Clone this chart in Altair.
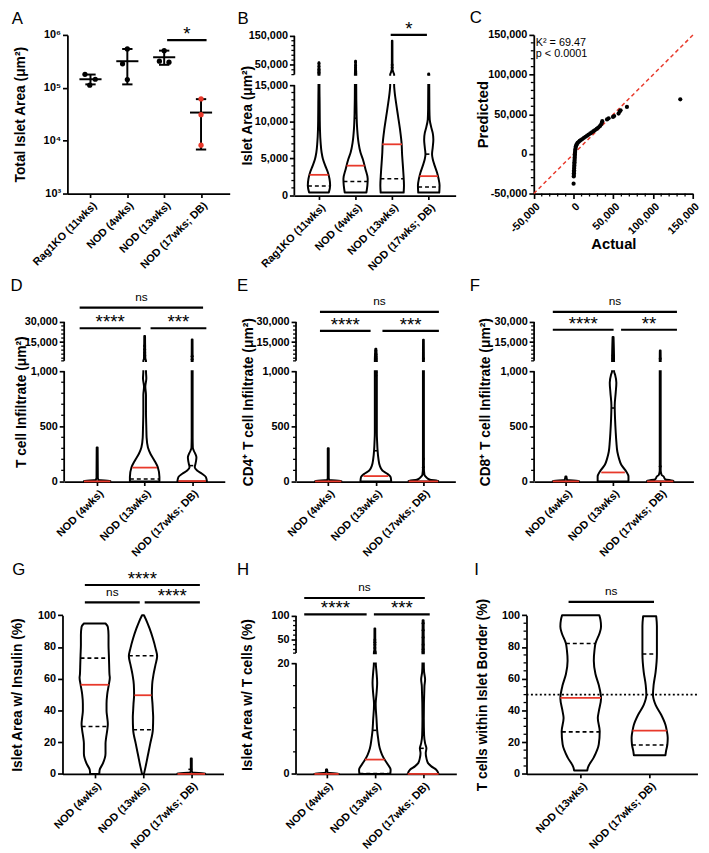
import altair as alt
import pandas as pd

FONT = "Liberation Sans"
RED = "#e8392b"
LABEL_SIZE = 11

GROUPS4 = ["Rag1KO (11wks)", "NOD (4wks)", "NOD (13wks)", "NOD (17wks; DB)"]
GROUPS3 = ["NOD (4wks)", "NOD (13wks)", "NOD (17wks; DB)"]
GROUPS2 = ["NOD (13wks)", "NOD (17wks; DB)"]

# ---------------- Panel A : total islet area (log) ----------------
A_point_group = [0, 0, 0, 1, 1, 1, 2, 2, 2, 3, 3, 3]
A_point_value = [180000, 145000, 112000, 542000, 284000, 143000, 504000, 318000, 305000, 61600, 31000, 8200]
A_point_jitter = [-0.15, 0.13, -0.02, 0.0, -0.13, 0.0, 0.0, -0.13, 0.13, 0.0, 0.0, 0.0]
A_mean = [145000, 318000, 378000, 34000]
A_sd_low = [116000, 116000, 272000, 6800]
A_sd_high = [178000, 542000, 504000, 61000]
A_sig_x1 = [2.08]
A_sig_x2 = [3.15]
A_sig_y = [796000]
A_sig_label = ["*"]

# ---------------- Panel B : islet area violins ----------------
B_values = [
    [360, 1340, 2240, 3130, 4030, 4930, 5820, 7160, 8960, 10300, 12540, 15000, 16667, 40000, 59000],
    [360, 1340, 2240, 3580, 4930, 5820, 7160, 8960, 11200, 15000, 16667, 40000, 64800],
    [360, 1340, 3130, 5820, 6940, 8960, 10750, 12540, 14330, 15000, 16667, 25000, 36000, 133000],
    [360, 1340, 2240, 3130, 4030, 4930, 5600, 6490, 7610, 8500, 9180, 10300, 11650, 15000, 16667, 19000],
]
B_halfwidth = [
    [0.269, 0.305, 0.287, 0.242, 0.171, 0.108, 0.072, 0.045, 0.027, 0.022, 0.018, 0.013, 0.013, 0.011, 0.009],
    [0.296, 0.323, 0.332, 0.269, 0.197, 0.135, 0.081, 0.045, 0.027, 0.018, 0.018, 0.011, 0.009],
    [0.314, 0.323, 0.305, 0.269, 0.260, 0.215, 0.162, 0.108, 0.063, 0.054, 0.054, 0.031, 0.009, 0.007],
    [0.287, 0.296, 0.269, 0.224, 0.162, 0.108, 0.090, 0.108, 0.126, 0.108, 0.072, 0.027, 0.018, 0.013, 0.013, 0.009],
]
B_median = [2780, 4030, 6940, 2600]
B_median_w = [0.26, 0.245, 0.27, 0.25]
B_q1_group = [0, 1, 2, 3]
B_q1 = [1250, 1880, 2240, 1120]
B_q1_w = [0.30, 0.33, 0.32, 0.29]
B_q3_group = [0, 1, 3]
B_q3 = [8930, 10500, 5600]
B_q3_w = [0.027, 0.025, 0.09]
B_out_group = [0, 0, 0, 0, 0, 0, 1, 1, 1, 1, 1, 1, 2, 2, 3]
B_out_value = [20000, 25000, 30000, 35000, 45000, 55000, 20000, 27000, 33000, 40000, 48000, 60000, 40000, 50000, 19000]
B_sig_x1 = [1.96]
B_sig_x2 = [2.95]
B_sig_y = [153400]
B_sig_label = ["*"]

# ---------------- Panel C : QQ plot ----------------
C_actual = [0, 200, 300, 400, 500, 600, 700, 800, 900, 1000, 1100, 1200, 1300, 1400, 1500, 1650, 1800,
            2000, 2200, 2500, 2900, 3400, 4100, 5000, 6200, 7600, 9200, 11000, 13000, 15000, 17000,
            19000, 21000, 23000, 25000, 27000, 29000, 31000, 33000, 34500, 35500, 36000, 42000, 44000,
            49500, 51000, 56500, 58000, 59000, 67000, 134000]
C_predicted = [-37500, -28500, -26500, -24500, -22500, -20500, -18500, -16500, -14500, -12500, -10500,
               -8500, -6500, -4500, -2500, -500, 1500, 3500, 5500, 7500, 9500, 11000, 12500, 13800, 15000,
               16300, 17500, 18800, 20200, 21600, 23000, 24400, 25800, 27200, 28600, 30000, 31500, 33200,
               35000, 37000, 39200, 41200, 43500, 44800, 46600, 47800, 50800, 53500, 55000, 59200, 68800]
C_stats = ["K² = 69.47", "p < 0.0001"]

# ---------------- Panel D : T cell infiltrate ----------------
D_values = [
    [0, 6, 12, 30, 307],
    [0, 39, 128, 188, 248, 307, 397, 487, 636, 785, 860, 934, 1000, 1001, 3000, 19500],
    [0, 39, 69, 98, 128, 158, 188, 218, 248, 278, 307, 400, 1000, 1001, 17000],
]
D_halfwidth = [
    [0.277, 0.277, 0.035, 0.014, 0.010],
    [0.311, 0.311, 0.277, 0.207, 0.124, 0.069, 0.041, 0.035, 0.028, 0.028, 0.014, 0.035, 0.028, 0.028, 0.014, 0.008],
    [0.311, 0.290, 0.207, 0.104, 0.055, 0.069, 0.083, 0.090, 0.069, 0.035, 0.014, 0.010, 0.010, 0.010, 0.008],
]
D_median = [0, 125, 3]
D_median_w = [0.277, 0.26, 0.29]
D_q1_group = [1]
D_q1 = [21]
D_q1_w = [0.31]
D_q3_group = [1, 2]
D_q3 = [850, 143]
D_q3_w = [0.016, 0.06]
D_out_group = [1, 1, 1, 1, 1, 2, 2]
D_out_value = [2500, 5000, 7000, 9500, 12000, 2000, 4500]
D_sig_x1 = [-0.369, -0.369, 1.124]
D_sig_x2 = [2.23, 0.917, 2.299]
D_sig_y = [40700, 25300, 25300]
D_sig_label = ["ns", "****", "***"]

# ---------------- Panel E : CD4 T cell infiltrate ----------------
E_values = [
    [0, 5, 12, 30, 300],
    [0, 39, 69, 98, 143, 203, 292, 352, 442, 561, 710, 860, 1000, 1001, 10000],
    [0, 5, 15, 40, 60, 120, 1000, 1001, 16750],
]
E_halfwidth = [
    [0.276, 0.276, 0.028, 0.010, 0.010],
    [0.324, 0.311, 0.242, 0.138, 0.083, 0.055, 0.035, 0.028, 0.021, 0.021, 0.021, 0.021, 0.021, 0.021, 0.010],
    [0.311, 0.311, 0.138, 0.055, 0.021, 0.010, 0.010, 0.010, 0.008],
]
E_median = [0, 48, 0]
E_median_w = [0.276, 0.26, 0.31]
E_q1_group = []
E_q1 = []
E_q1_w = []
E_q3_group = [1]
E_q3 = [278]
E_q3_w = [0.035]
E_out_group = [1, 1, 1, 1, 1, 1, 2, 2, 2]
E_out_value = [960, 990, 2500, 4000, 6000, 8500, 128, 203, 2500]
E_sig_x1 = [-0.174, -0.174, 1.139]
E_sig_x2 = [2.325, 0.89, 2.325]
E_sig_y = [37500, 23400, 23400]
E_sig_label = ["ns", "****", "***"]

# ---------------- Panel F : CD8 T cell infiltrate ----------------
F_values = [
    [0, 5, 12, 45],
    [0, 45, 90, 150, 209, 269, 358, 448, 567, 687, 806, 896, 970, 1000, 1001, 18750],
    [0, 5, 20, 45, 60, 100, 1000, 1001, 8750],
]
F_halfwidth = [
    [0.279, 0.279, 0.028, 0.010],
    [0.327, 0.327, 0.279, 0.174, 0.125, 0.091, 0.070, 0.056, 0.042, 0.035, 0.056, 0.070, 0.042, 0.021, 0.021, 0.010],
    [0.279, 0.279, 0.104, 0.070, 0.028, 0.010, 0.010, 0.010, 0.008],
]
F_median = [0, 81, 0]
F_median_w = [0.279, 0.25, 0.279]
F_q1_group = []
F_q1 = []
F_q1_w = []
F_q3_group = [1]
F_q3 = [666]
F_q3_w = [0.035]
F_out_group = [1, 1, 2, 2]
F_out_value = [2500, 5000, 135, 2500]
F_sig_x1 = [-0.278, -0.278, 1.17]
F_sig_x2 = [2.355, 1.011, 2.355]
F_sig_y = [37500, 24200, 24200]
F_sig_label = ["ns", "****", "**"]

# ---------------- Panel G : insulin area ----------------
G_values = [
    [0, 2.5, 6.6, 12.9, 19.1, 23.2, 27.4, 31.5, 35.7, 39.8, 44, 50.2, 56.4, 60.6, 62.7, 68.9, 75, 81.3, 87.5, 92.7, 94.8],
    [0, 4.6, 10.8, 19.1, 27.8, 35.7, 40, 44, 49.8, 56.4, 62.7, 68.9, 74.1, 79.3, 85.5, 91.7, 95.9, 100],
    [0, 0.4, 0.8, 2, 9.75],
]
G_halfwidth = [
    [0.095, 0.102, 0.170, 0.224, 0.224, 0.238, 0.259, 0.272, 0.259, 0.245, 0.245, 0.259, 0.293, 0.313, 0.306, 0.299, 0.293, 0.286, 0.286, 0.272, 0.224],
    [0.020, 0.054, 0.095, 0.150, 0.204, 0.211, 0.204, 0.197, 0.184, 0.190, 0.218, 0.259, 0.293, 0.259, 0.204, 0.136, 0.082, 0.020],
    [0.286, 0.286, 0.027, 0.010, 0.010],
]
G_median = [56.2, 49.6, 0]
G_median_w = [0.29, 0.177, 0.286]
G_q1_group = [0, 1]
G_q1 = [29.9, 27.8]
G_q1_w = [0.27, 0.204]
G_q3_group = [0, 1, 2]
G_q3 = [73, 74.5, 2.9]
G_q3_w = [0.293, 0.293, 0.06]
G_out_group = []
G_out_value = []
G_sig_x1 = [-0.204, -0.204, 1.035]
G_sig_x2 = [2.178, 0.933, 2.178]
G_sig_y = [119.1, 108.1, 108.1]
G_sig_label = ["****", "ns", "****"]

# ---------------- Panel H : T cell area ----------------
H_values = [
    [0, 0.06, 0.2, 0.5, 0.8],
    [0, 0.77, 1.67, 2.56, 3.45, 4.64, 6.43, 7.9, 10, 11.8, 12.7, 14.5, 16.5, 18.5, 20, 22.4, 30, 74],
    [0, 0.77, 1.37, 1.96, 2.86, 3.75, 4.64, 5.53, 7, 10, 15.9, 17.1, 18.5, 20, 22.4, 91],
]
H_halfwidth = [
    [0.252, 0.252, 0.027, 0.014, 0.010],
    [0.320, 0.327, 0.272, 0.204, 0.150, 0.102, 0.068, 0.048, 0.034, 0.020, 0.017, 0.034, 0.048, 0.034, 0.020, 0.020, 0.010, 0.008],
    [0.320, 0.272, 0.170, 0.102, 0.068, 0.054, 0.068, 0.041, 0.020, 0.014, 0.027, 0.041, 0.020, 0.014, 0.014, 0.010],
]
H_median = [0, 2.6, 0]
H_median_w = [0.252, 0.204, 0.32]
H_q1_group = [1]
H_q1 = [0.05]
H_q1_w = [0.32]
H_q3_group = [1, 2]
H_q3 = [7.9, 4.64]
H_q3_w = [0.048, 0.068]
H_out_group = [0, 1, 1, 1, 1, 1, 2, 2, 2, 2, 2, 2]
H_out_value = [0.65, 25, 33, 40, 45, 50, 25, 30, 40, 55, 70, 85]
H_sig_x1 = [-0.463, -0.463, 0.98]
H_sig_x2 = [2.035, 0.83, 2.137]
H_sig_y = [137.6, 103.5, 103.5]
H_sig_label = ["ns", "****", "***"]

# ---------------- Panel I : T cells within border ----------------
I_values = [
    [2.1, 4.1, 10.4, 18.6, 26.9, 35.2, 39.3, 47.6, 56, 63, 71.4, 78, 82.2, 89, 93, 97.3, 100],
    [11.8, 14.5, 18.6, 22.8, 27.3, 31, 37.3, 43.5, 49.7, 55.9, 64.2, 75.6, 84.9, 93.2, 99.4],
]
I_halfwidth = [
    [0.095, 0.105, 0.190, 0.262, 0.276, 0.248, 0.262, 0.295, 0.262, 0.214, 0.190, 0.200, 0.214, 0.276, 0.295, 0.286, 0.27],
    [0.229, 0.238, 0.257, 0.262, 0.248, 0.229, 0.167, 0.086, 0.048, 0.057, 0.086, 0.105, 0.105, 0.105, 0.095],
]
I_median = [48, 27.3]
I_median_w = [0.295, 0.248]
I_q1_group = [0, 1]
I_q1 = [26.5, 18.2]
I_q1_w = [0.273, 0.257]
I_q3_group = [0, 1]
I_q3 = [82.2, 75.6]
I_q3_w = [0.214, 0.105]
I_out_group = []
I_out_value = []
I_sig_x1 = [-0.176]
I_sig_x2 = [1.063]
I_sig_y = [108.5]
I_sig_label = ["ns"]
I_reference = [50]


# ================= helpers =================
def letter_title(letter, dx, dy):
    return alt.TitleParams(text=letter, anchor="start", frame="group", font=FONT, fontSize=17,
                           fontWeight="normal", color="black", baseline="alphabetic", offset=0,
                           dx=dx, dy=dy)


def cat_x_axis(names):
    expr = "[" + ",".join("'%s'" % n for n in names) + "][datum.value]"
    return alt.Axis(values=list(range(len(names))), tickCount=50, labelExpr=expr, labelAngle=-45,
                    labelFont=FONT, labelFontSize=LABEL_SIZE, labelFontWeight="bold", labelColor="black",
                    labelPadding=2, labelOverlap=False, labelFlush=False,
                    tickSize=4, tickWidth=1.7, tickColor="black",
                    domainColor="black", domainWidth=1.8, grid=False, title=None)


def left_axis(values, title, title_x, title_y, shift, domain, fmt=",d", label_expr=None, title_size=14):
    kw = dict(values=values, tickCount=50, labelFont=FONT, labelFontSize=LABEL_SIZE, labelFontWeight="bold",
              labelColor="black", labelPadding=2, labelOverlap=False, labelFlush=False,
              tickSize=5, tickWidth=1.7, tickColor="black",
              domain=domain, domainColor="black", domainWidth=1.8, grid=False,
              title=title, titleFont=FONT, titleFontSize=title_size, titleFontWeight="bold",
              titleColor="black", titleX=title_x, titleY=title_y, titleAngle=270,
              titleBaseline="alphabetic", titleAlign="center", offset=-shift)
    if label_expr:
        kw["labelExpr"] = label_expr
    else:
        kw["format"] = fmt
    return alt.Axis(**kw)


def hline_layer(groups, vals, widths, xs, ys, color, width, dash=None):
    df = pd.DataFrame({"v": vals, "lo": [g - w for g, w in zip(groups, widths)],
                       "hi": [g + w for g, w in zip(groups, widths)]})
    kw = dict(color=color, strokeWidth=width)
    if dash:
        kw["strokeDash"] = dash
    return alt.Chart(df).mark_rule(**kw).encode(
        x=alt.X("lo:Q", scale=xs), x2="hi:Q", y=alt.Y("v:Q", scale=ys))


def sig_layers(x1, x2, y, labels, xs, ys):
    df = pd.DataFrame({"x1": x1, "x2": x2, "y": y, "t": labels})
    df["m"] = (df["x1"] + df["x2"]) / 2
    out = [alt.Chart(df).mark_rule(color="black", strokeWidth=2.2).encode(
        x=alt.X("x1:Q", scale=xs), x2="x2:Q", y=alt.Y("y:Q", scale=ys))]
    stars = df[df["t"] != "ns"]
    ns = df[df["t"] == "ns"]
    if len(stars):
        out.append(alt.Chart(stars).mark_text(font=FONT, fontSize=19, baseline="alphabetic",
                                              align="center", color="black").encode(
            x=alt.X("m:Q", scale=xs), y=alt.Y("y:Q", scale=ys), text="t:N"))
    if len(ns):
        out.append(alt.Chart(ns).mark_text(font=FONT, fontSize=12, baseline="alphabetic",
                                           align="center", color="black", dy=-7).encode(
            x=alt.X("m:Q", scale=xs), y=alt.Y("y:Q", scale=ys), text="t:N"))
    return out


def violin_panel(p):
    W, H, shift, vs = p["W"], p["H"], p["shift"], p["vshift"]
    GW, GH = shift + W, vs + H
    xs = alt.Scale(domain=p["xdom"], range=[shift, GW], nice=False, zero=False)
    if p.get("yrange"):
        ys = alt.Scale(domain=p["ydom"], range=[r + vs for r in p["yrange"]], nice=False, zero=False)
    else:
        ys = alt.Scale(domain=p["ydom"], range=[GH, vs], nice=False, zero=False)
    broken = p.get("segments") is not None
    yaxis = left_axis(p["major"], p["ytitle"], p["ytitle_x"], vs + H / 2, shift, domain=not broken,
                      fmt=p["fmt"])

    rows = []
    for g, (vals, ws) in enumerate(zip(p["values"], p["hw"])):
        for v, w in zip(vals, ws):
            rows.append({"g": g, "v": v, "lo": g - w, "hi": g + w})
    vdf = pd.DataFrame(rows)
    layers = [alt.Chart(vdf).mark_area(orient="horizontal", interpolate="monotone", fill="white",
                                       stroke="black", strokeWidth=2, strokeJoin="round").encode(
        y=alt.Y("v:Q", scale=ys, axis=yaxis),
        x=alt.X("lo:Q", scale=xs, axis=cat_x_axis(p["groups"]), stack=False),
        x2="hi:Q",
        detail="g:N")]

    if p.get("gap"):
        a, b = p["gap"]
        gdf = pd.DataFrame({"a": [a + (b - a) * 0.1], "b": [b - (b - a) * 0.1]})
        layers.append(alt.Chart(gdf).mark_rect(color="white").encode(
            x=alt.value(shift + 1.5), x2=alt.value(GW),
            y=alt.Y("a:Q", scale=ys), y2="b:Q"))

    if p.get("reference"):
        n = len(p["reference"])
        rdf = pd.DataFrame({"r": p["reference"], "x1": [p["xdom"][0]] * n, "x2": [p["xdom"][1]] * n})
        layers.append(alt.Chart(rdf).mark_rule(color="black", strokeWidth=1.6, strokeDash=[2, 2.5]).encode(
            x=alt.X("x1:Q", scale=xs), x2="x2:Q", y=alt.Y("r:Q", scale=ys)))

    if p["q1"]:
        layers.append(hline_layer(p["q1_group"], p["q1"], p["q1_w"], xs, ys, "black", 1.6, [4, 3]))
    if p["q3"]:
        layers.append(hline_layer(p["q3_group"], p["q3"], p["q3_w"], xs, ys, "black", 1.6, [4, 3]))
    layers.append(hline_layer(list(range(len(p["median"]))), p["median"], p["median_w"], xs, ys, RED, 1.8))

    if p["out_value"]:
        odf = pd.DataFrame({"g": p["out_group"], "v": p["out_value"]})
        layers.append(alt.Chart(odf).mark_circle(size=9, color="black", opacity=1).encode(
            x=alt.X("g:Q", scale=xs), y=alt.Y("v:Q", scale=ys)))

    if broken:
        sdf = pd.DataFrame({"a": [s[0] for s in p["segments"]], "b": [s[1] for s in p["segments"]]})
        layers.append(alt.Chart(sdf).mark_rule(color="black", strokeWidth=1.8).encode(
            x=alt.value(shift), y=alt.Y("a:Q", scale=ys), y2="b:Q"))
    if p.get("minor"):
        mdf = pd.DataFrame({"m": p["minor"]})
        layers.append(alt.Chart(mdf).mark_rule(color="black", strokeWidth=1.3).encode(
            x=alt.value(shift - 3), x2=alt.value(shift), y=alt.Y("m:Q", scale=ys)))

    layers += sig_layers(p["sig_x1"], p["sig_x2"], p["sig_y"], p["sig_label"], xs, ys)
    return alt.layer(*layers).properties(width=GW, height=GH,
                                         title=letter_title(p["letter"], p["ldx"], p["ldy"]))


# ================= Panel A =================
def panel_A(shift=5, W=164.7, H=161):
    GW = shift + W
    xs = alt.Scale(domain=[-0.626, 3.778], range=[shift, GW], nice=False, zero=False)
    ys = alt.Scale(type="log", domain=[1000, 1000000], nice=False)
    sup = "'10' + ['⁰','¹','²','³','⁴','⁵','⁶'][round(log(datum.value)/LN10)]"
    yaxis = left_axis([1000, 10000, 100000, 1000000], "Total Islet Area (μm²)", -44, H / 2, shift,
                      domain=True, label_expr=sup)
    g = list(range(4))
    err = pd.DataFrame({"g": g, "lo": A_sd_low, "hi": A_sd_high})
    base = alt.Chart(err).mark_rule(color="black", strokeWidth=2).encode(
        x=alt.X("g:Q", scale=xs, axis=cat_x_axis(GROUPS4)),
        y=alt.Y("lo:Q", scale=ys, axis=yaxis), y2="hi:Q")
    mean = hline_layer(g, A_mean, [0.3] * 4, xs, ys, "black", 2)
    cap_lo = hline_layer(g, A_sd_low, [0.14] * 4, xs, ys, "black", 2)
    cap_hi = hline_layer(g, A_sd_high, [0.14] * 4, xs, ys, "black", 2)
    pts = pd.DataFrame({"x": [gg + j for gg, j in zip(A_point_group, A_point_jitter)],
                        "v": A_point_value,
                        "c": [RED if gg == 3 else "black" for gg in A_point_group]})
    points = alt.Chart(pts).mark_circle(size=28, opacity=1).encode(
        x=alt.X("x:Q", scale=xs), y=alt.Y("v:Q", scale=ys),
        color=alt.Color("c:N", scale=None))
    layers = [base, mean, cap_lo, cap_hi, points] + sig_layers(A_sig_x1, A_sig_x2, A_sig_y, A_sig_label, xs, ys)
    return alt.layer(*layers).properties(width=GW, height=H, title=letter_title("A", -51.6, 15.7))


# ================= Panel C =================
def panel_C(shift=12.7, W=161.6, H=161):
    GW = shift + W
    xs = alt.Scale(domain=[-50000, 150000], range=[shift, GW], nice=False, zero=False)
    ys = alt.Scale(domain=[-50000, 150000], nice=False, zero=False)
    major = [-50000, 0, 50000, 100000, 150000]
    minor = [v for v in range(-40000, 150000, 10000) if v % 50000 != 0]
    lab = "replace(format(datum.value, ',d'), '−', '-')"
    xaxis = alt.Axis(values=major, tickCount=50, labelExpr=lab, labelAngle=-45, labelFont=FONT,
                     labelFontSize=LABEL_SIZE, labelFontWeight="bold", labelColor="black", labelPadding=2,
                     labelOverlap=False, labelFlush=False, tickSize=5, tickWidth=1.7, tickColor="black",
                     domainColor="black", domainWidth=1.8, grid=False,
                     title="Actual", titleFont=FONT, titleFontSize=15, titleFontWeight="bold",
                     titleColor="black", titleX=shift + W / 2, titleY=56, titleBaseline="alphabetic",
                     titleAlign="center")
    yaxis = left_axis(major, "Predicted", -47.4, H / 2, shift, domain=True, label_expr=lab, title_size=15)
    line_df = pd.DataFrame({"a": [-50000, 150000], "p": [-50000, 150000]})
    line = alt.Chart(line_df).mark_line(color=RED, strokeDash=[4, 3], strokeWidth=1.5).encode(
        x=alt.X("a:Q", scale=xs, axis=xaxis), y=alt.Y("p:Q", scale=ys, axis=yaxis))
    pts = alt.Chart(pd.DataFrame({"a": C_actual, "p": C_predicted})).mark_circle(
        size=18, color="black", opacity=1).encode(
        x=alt.X("a:Q", scale=xs), y=alt.Y("p:Q", scale=ys))
    mdf = pd.DataFrame({"m": minor})
    my = alt.Chart(mdf).mark_rule(color="black", strokeWidth=1.3).encode(
        x=alt.value(shift - 3), x2=alt.value(shift), y=alt.Y("m:Q", scale=ys))
    mx = alt.Chart(mdf).mark_rule(color="black", strokeWidth=1.3).encode(
        y=alt.value(H), y2=alt.value(H + 3), x=alt.X("m:Q", scale=xs))
    tdf = pd.DataFrame({"t": C_stats, "x": [-47500, -47500], "y": [136300, 121700]})
    txt = alt.Chart(tdf).mark_text(font=FONT, fontSize=11, align="left", baseline="alphabetic",
                                   color="black").encode(
        x=alt.X("x:Q", scale=xs), y=alt.Y("y:Q", scale=ys), text="t:N")
    return alt.layer(line, pts, my, mx, txt).properties(width=GW, height=H,
                                                        title=letter_title("C", -52.3, 11))


def minor_between(lo, hi, step, exclude):
    out = []
    v = lo
    while v <= hi + 1e-9:
        if all(abs(v - e) > 1e-6 for e in exclude):
            out.append(round(v, 4))
        v += step
    return out


B_major = [0, 5000, 10000, 15000, 50000, 150000]
B_minor = minor_between(1000, 14000, 1000, B_major) + [16667, 33333, 66667, 83333, 100000, 116667, 133333]
DEF_major = [0, 500, 1000, 15000, 30000]
DEF_minor = minor_between(100, 900, 100, DEF_major) + [1001] + minor_between(3000, 27000, 3000, DEF_major)
H_major = [0, 20, 50, 100]
H_minor = [4, 8, 12, 16, 22.4, 30, 40, 60, 70, 80, 90]
I_major = [0, 20, 40, 60, 80, 100]
I_minor = minor_between(5, 95, 5, I_major)

DEF_range = [161.8, 50, 39.5, 0]
ROW3_SHIFT = 7.4


def cfg(letter, ldx, ldy, groups, W, H, shift, vshift, xdom, ydom, yrange, major, minor, segments, gap,
        ytitle, ytitle_x, fmt, pre):
    g = globals()
    return dict(letter=letter, ldx=ldx, ldy=ldy, groups=groups, W=W, H=H, shift=shift, vshift=vshift,
                xdom=xdom, ydom=ydom, yrange=yrange, major=major, minor=minor, segments=segments, gap=gap,
                ytitle=ytitle, ytitle_x=ytitle_x, fmt=fmt,
                values=g[pre + "_values"], hw=g[pre + "_halfwidth"],
                median=g[pre + "_median"], median_w=g[pre + "_median_w"],
                q1_group=g[pre + "_q1_group"], q1=g[pre + "_q1"], q1_w=g[pre + "_q1_w"],
                q3_group=g[pre + "_q3_group"], q3=g[pre + "_q3"], q3_w=g[pre + "_q3_w"],
                out_group=g[pre + "_out_group"], out_value=g[pre + "_out_value"],
                sig_x1=g[pre + "_sig_x1"], sig_x2=g[pre + "_sig_x2"], sig_y=g[pre + "_sig_y"],
                sig_label=g[pre + "_sig_label"])


pB = cfg("B", -57.8, 21, GROUPS4, 163.7, 163, 0, 0, [-0.673, 3.735], [0, 15000, 16667, 150000],
         [162.7, 51, 40.3, 1], B_major, B_minor, [(0, 15000), (16667, 150000)], (15000, 16667),
         "Islet Area (μm²)", -43, ",d", "B")
pD = cfg("D", -52.8, 17.5, GROUPS3, 163, 162, 1.7, 0, [-0.695, 2.687], [0, 1000, 1001, 30000],
         DEF_range, DEF_major, DEF_minor, [(0, 1000), (1001, 30000)], (1000, 1001),
         "T cell Infiltrate (μm²)", -39, ",d", "D")
pE = cfg("E", -58.2, 13.2, GROUPS3, 161.7, 162, 1.7, 0, [-0.677, 2.671], [0, 1000, 1001, 30000],
         DEF_range, DEF_major, DEF_minor, [(0, 1000), (1001, 30000)], (1000, 1001),
         "CD4⁺ T cell Infiltrate (μm²)", -44, ",d", "E")
pF = cfg("F", -52.3, 13.2, GROUPS3, 161.7, 162, 13, 0, [-0.675, 2.704], [0, 1000, 1001, 30000],
         DEF_range, DEF_major, DEF_minor, [(0, 1000), (1001, 30000)], (1000, 1001),
         "CD8⁺ T cell Infiltrate (μm²)", -45, ",d", "F")
pG = cfg("G", -51, 22.2, GROUPS3, 163.4, 161, 0, ROW3_SHIFT, [-0.667, 2.667], [0, 100], None,
         I_major, None, None, None, "Islet Area w/ Insulin (%)", -42, "d", "G")
pH = cfg("H", -58.2, 10.8, GROUPS3, 162.7, 161, 1.7, ROW3_SHIFT, [-0.633, 2.688], [0, 20, 22.4, 100],
         [161, 49, 38.4, 0.7], H_major, H_minor, [(0, 20), (22.4, 100)], (20, 22.4),
         "Islet Area w/ T cells (%)", -45, "d", "H")
pI = cfg("I", -47.7, 7.2, GROUPS2, 173.5, 161, 5.3, ROW3_SHIFT, [-0.786, 1.693], [0, 100], None,
         I_major, I_minor, None, None, "T cells within Islet Border (%)", -40.6, "d", "I")
pI["reference"] = I_reference

A = panel_A()
B = violin_panel(pB)
C = panel_C()
D = violin_panel(pD)
E = violin_panel(pE)
F = violin_panel(pF)
G = violin_panel(pG)
Hp = violin_panel(pH)
Ip = violin_panel(pI)

chart = alt.concat(A, B, C, D, E, F, G, Hp, Ip, columns=3,
                   spacing={"row": 128.3, "column": 65.3}, bounds="flush", align="each").properties(
    padding={"left": 2.3, "top": -5, "right": 0, "bottom": 0}
).configure_view(strokeWidth=0)

chart.save("out.html", embed_options={"renderer": "svg", "actions": False})
